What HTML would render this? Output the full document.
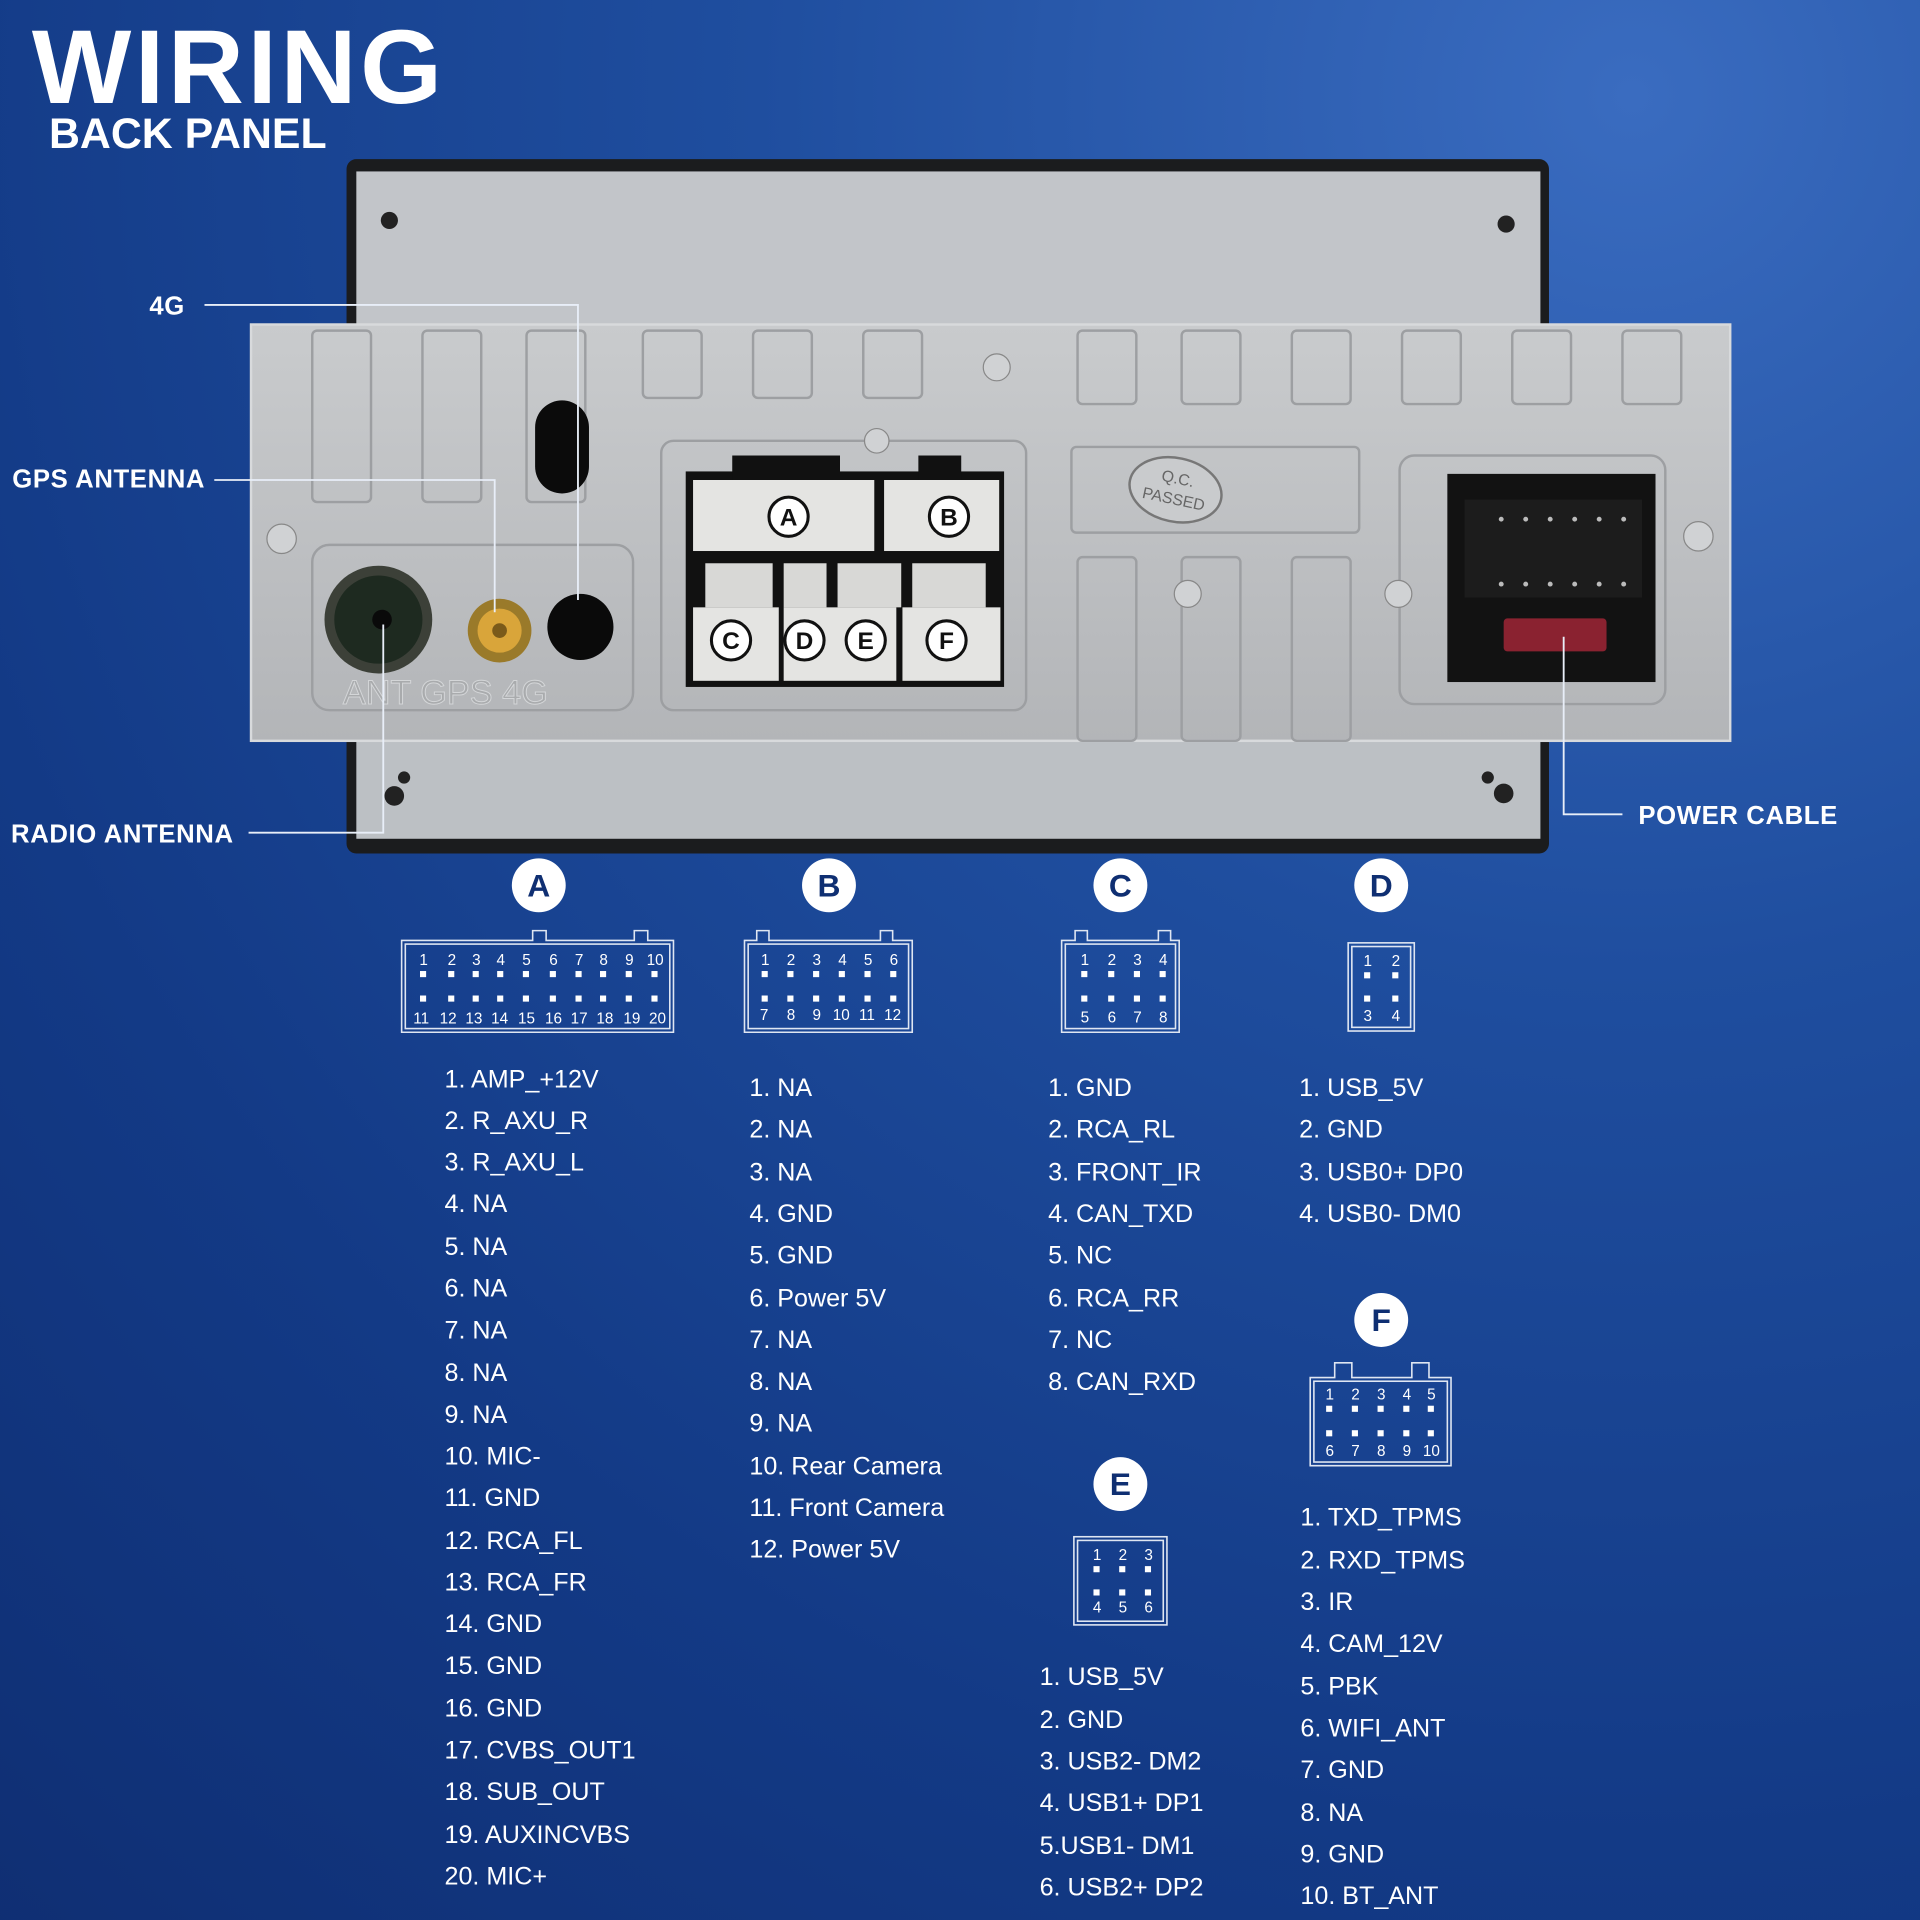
<!DOCTYPE html>
<html><head><meta charset="utf-8"><style>
html,body{margin:0;padding:0;width:1920px;height:1920px;overflow:hidden;background:#163f8f}
svg{display:block}
.t{font-family:"Liberation Sans",sans-serif;fill:#fff}
.l{font-size:20.5px}
.n{font-size:12.5px}
.lab{font-size:21px;font-weight:bold;letter-spacing:0.5px}
</style></head><body>
<svg width="1920" height="1920" viewBox="0 0 1568 1568" xmlns="http://www.w3.org/2000/svg">
<defs>
<radialGradient id="bg" cx="0.85" cy="0.05" r="1.3">
<stop offset="0" stop-color="#3a6cc0"/><stop offset="0.35" stop-color="#1f4e9f"/><stop offset="0.7" stop-color="#133a86"/><stop offset="1" stop-color="#0f2e72"/>
</radialGradient>
<linearGradient id="pl" x1="0" y1="0" x2="0" y2="1"><stop offset="0" stop-color="#c9cbcd"/><stop offset="1" stop-color="#b3b5b8"/></linearGradient>
</defs>
<rect width="1568" height="1568" fill="url(#bg)"/>
<text class="t" x="26" y="84" font-size="86" font-weight="bold" letter-spacing="3">WIRING</text>
<text class="t" x="40" y="121" font-size="35" font-weight="bold">BACK PANEL</text>

<rect x="283" y="130" width="982" height="567" rx="8" fill="#1b1c1e"/>
<rect x="291" y="140" width="967" height="130" fill="#c2c5c9"/>
<rect x="291" y="603" width="967" height="82" fill="#bcc0c4"/>
<circle cx="318" cy="180" r="7" fill="#222"/><circle cx="1230" cy="183" r="7" fill="#222"/>
<circle cx="322" cy="650" r="8" fill="#222"/><circle cx="1228" cy="648" r="8" fill="#222"/>
<circle cx="330" cy="635" r="5" fill="#222"/><circle cx="1215" cy="635" r="5" fill="#222"/>
<rect x="205" y="265" width="1208" height="340" fill="url(#pl)" stroke="#d8dadc" stroke-width="2"/>
<g fill="none" stroke="#9d9fa2" stroke-width="2">
<rect x="255" y="270" width="48" height="140" rx="4"/><rect x="345" y="270" width="48" height="140" rx="4"/><rect x="430" y="270" width="48" height="140" rx="4"/>
<rect x="525" y="270" width="48" height="55" rx="4"/><rect x="615" y="270" width="48" height="55" rx="4"/><rect x="705" y="270" width="48" height="55" rx="4"/>
<rect x="880" y="270" width="48" height="60" rx="4"/><rect x="965" y="270" width="48" height="60" rx="4"/><rect x="1055" y="270" width="48" height="60" rx="4"/>
<rect x="1145" y="270" width="48" height="60" rx="4"/><rect x="1235" y="270" width="48" height="60" rx="4"/><rect x="1325" y="270" width="48" height="60" rx="4"/>
<rect x="880" y="455" width="48" height="150" rx="4"/><rect x="965" y="455" width="48" height="150" rx="4"/><rect x="1055" y="455" width="48" height="150" rx="4"/>
<rect x="875" y="365" width="235" height="70" rx="4"/>
<rect x="255" y="445" width="262" height="135" rx="14"/>
<rect x="540" y="360" width="298" height="220" rx="10"/>
<rect x="1143" y="372" width="217" height="203" rx="12"/>
</g>
<rect x="437" y="327" width="44" height="76" rx="22" fill="#0b0b0b"/>
<circle cx="309" cy="506" r="44" fill="#3c4038"/><circle cx="309" cy="506" r="36" fill="#1e2a20"/><circle cx="312" cy="506" r="8" fill="#0a0a0a"/>
<circle cx="408" cy="515" r="26" fill="#9a7a2a"/><circle cx="408" cy="515" r="18" fill="#d9a53a"/><circle cx="408" cy="515" r="6" fill="#7a5a1a"/>
<circle cx="474" cy="512" r="27" fill="#0a0a0a"/>
<text x="280" y="575" font-family="Liberation Sans,sans-serif" font-size="28" fill="#a9abad" stroke="#d4d6d8" stroke-width="0.8">ANT GPS 4G</text>
<rect x="560" y="385" width="260" height="176" fill="#111"/>
<rect x="598" y="372" width="88" height="20" fill="#111"/><rect x="750" y="372" width="35" height="20" fill="#111"/>
<rect x="566" y="392" width="148" height="58" fill="#e4e4e2"/><rect x="722" y="392" width="94" height="58" fill="#e4e4e2"/>
<rect x="576" y="460" width="55" height="36" fill="#d8d8d6"/><rect x="640" y="460" width="35" height="36" fill="#d8d8d6"/><rect x="684" y="460" width="52" height="36" fill="#d8d8d6"/><rect x="745" y="460" width="60" height="36" fill="#d8d8d6"/>
<rect x="566" y="496" width="70" height="60" fill="#e4e4e2"/><rect x="640" y="496" width="92" height="60" fill="#e4e4e2"/><rect x="737" y="496" width="80" height="60" fill="#e4e4e2"/>
<g stroke="#111" stroke-width="2.5" fill="#fff">
<circle cx="644" cy="422" r="16"/><circle cx="775" cy="422" r="16"/><circle cx="597" cy="523" r="16"/><circle cx="657" cy="523" r="16"/><circle cx="707" cy="523" r="16"/><circle cx="773" cy="523" r="16"/>
</g>
<g font-family="Liberation Sans,sans-serif" font-weight="bold" font-size="20" fill="#111" text-anchor="middle">
<text x="644" y="429">A</text><text x="775" y="429">B</text><text x="597" y="530">C</text><text x="657" y="530">D</text><text x="707" y="530">E</text><text x="773" y="530">F</text>
</g>
<circle cx="716" cy="360" r="10" fill="#d0d2d4" stroke="#888"/>
<circle cx="814" cy="300" r="11" fill="#d0d2d4" stroke="#888"/>
<circle cx="230" cy="440" r="12" fill="#d0d2d4" stroke="#888"/>
<circle cx="970" cy="485" r="11" fill="#d0d2d4" stroke="#888"/>
<circle cx="1142" cy="485" r="11" fill="#d0d2d4" stroke="#888"/>
<circle cx="1387" cy="438" r="12" fill="#d0d2d4" stroke="#888"/>
<ellipse cx="960" cy="400" rx="38" ry="26" fill="#c9cbcd" stroke="#777" stroke-width="2" transform="rotate(12 960 400)"/>
<text x="960" y="395" font-family="Liberation Sans,sans-serif" font-size="13" fill="#666" text-anchor="middle" transform="rotate(12 960 400)">Q.C.</text>
<text x="960" y="412" font-family="Liberation Sans,sans-serif" font-size="13" fill="#666" text-anchor="middle" transform="rotate(12 960 400)">PASSED</text>
<rect x="1182" y="387" width="170" height="170" fill="#121212"/>
<rect x="1196" y="408" width="145" height="80" fill="#1c1c1c"/>
<g fill="#bbb"><circle cx="1226" cy="424" r="2"/><circle cx="1246" cy="424" r="2"/><circle cx="1266" cy="424" r="2"/><circle cx="1286" cy="424" r="2"/><circle cx="1306" cy="424" r="2"/><circle cx="1326" cy="424" r="2"/>
<circle cx="1226" cy="477" r="2"/><circle cx="1246" cy="477" r="2"/><circle cx="1266" cy="477" r="2"/><circle cx="1286" cy="477" r="2"/><circle cx="1306" cy="477" r="2"/><circle cx="1326" cy="477" r="2"/></g>
<rect x="1228" y="505" width="84" height="27" rx="3" fill="#8a2230"/>

<g stroke="#e8eef8" stroke-width="1.5" fill="none">
<polyline points="167,249 472,249 472,490"/>
<polyline points="175,392 404,392 404,500"/>
<polyline points="203,680 313,680 313,510"/>
<polyline points="1325,665 1277,665 1277,520"/>
</g>
<text class="t lab" x="122" y="257">4G</text>
<text class="t lab" x="10" y="398">GPS ANTENNA</text>
<text class="t lab" x="9" y="688">RADIO ANTENNA</text>
<text class="t lab" x="1338" y="673">POWER CABLE</text>

<g fill="#fff"><circle cx="440" cy="723" r="22"/><circle cx="677" cy="723" r="22"/><circle cx="915" cy="723" r="22"/><circle cx="1128" cy="723" r="22"/><circle cx="1128" cy="1078" r="22"/><circle cx="915" cy="1212" r="22"/></g>
<g font-family="Liberation Sans,sans-serif" font-weight="bold" font-size="26" fill="#0f2f72" text-anchor="middle">
<text x="440" y="732">A</text><text x="677" y="732">B</text><text x="915" y="732">C</text><text x="1128" y="732">D</text><text x="1128" y="1087">F</text><text x="915" y="1221">E</text>
</g>

<g stroke="#dfe6f2" stroke-width="1.3" fill="none">
<path d="M328 768 H435 V760 H446 V768 H518 V760 H529 V768 H550 V843 H328 Z"/><rect x="331" y="771" width="216" height="69"/>
<path d="M608 768 H618 V760 H628 V768 H719 V760 H729 V768 H745 V843 H608 Z"/><rect x="611" y="771" width="131" height="69"/>
<path d="M867 768 H878 V760 H888 V768 H946 V760 H956 V768 H963 V843 H867 Z"/><rect x="870" y="771" width="90" height="69"/>
<rect x="1101" y="770" width="54" height="72"/><rect x="1104" y="773" width="48" height="66"/>
<path d="M1070 1125 H1090 V1113 H1104 V1125 H1153 V1113 H1167 V1125 H1185 V1197 H1070 Z"/><rect x="1073" y="1128" width="109" height="66"/>
<rect x="877" y="1255" width="76" height="72"/><rect x="880" y="1258" width="70" height="66"/>
</g>
<g fill="#fff">
<rect x="343" y="793" width="5" height="5"/><rect x="366" y="793" width="5" height="5"/><rect x="386" y="793" width="5" height="5"/><rect x="406" y="793" width="5" height="5"/><rect x="427" y="793" width="5" height="5"/><rect x="449" y="793" width="5" height="5"/><rect x="470" y="793" width="5" height="5"/><rect x="490" y="793" width="5" height="5"/><rect x="511" y="793" width="5" height="5"/><rect x="532" y="793" width="5" height="5"/>
<rect x="343" y="813" width="5" height="5"/><rect x="366" y="813" width="5" height="5"/><rect x="386" y="813" width="5" height="5"/><rect x="406" y="813" width="5" height="5"/><rect x="427" y="813" width="5" height="5"/><rect x="449" y="813" width="5" height="5"/><rect x="470" y="813" width="5" height="5"/><rect x="490" y="813" width="5" height="5"/><rect x="511" y="813" width="5" height="5"/><rect x="532" y="813" width="5" height="5"/>
<rect x="622" y="793" width="5" height="5"/><rect x="643" y="793" width="5" height="5"/><rect x="664" y="793" width="5" height="5"/><rect x="685" y="793" width="5" height="5"/><rect x="706" y="793" width="5" height="5"/><rect x="727" y="793" width="5" height="5"/>
<rect x="622" y="813" width="5" height="5"/><rect x="643" y="813" width="5" height="5"/><rect x="664" y="813" width="5" height="5"/><rect x="685" y="813" width="5" height="5"/><rect x="706" y="813" width="5" height="5"/><rect x="727" y="813" width="5" height="5"/>
<rect x="883" y="793" width="5" height="5"/><rect x="905" y="793" width="5" height="5"/><rect x="926" y="793" width="5" height="5"/><rect x="947" y="793" width="5" height="5"/>
<rect x="883" y="813" width="5" height="5"/><rect x="905" y="813" width="5" height="5"/><rect x="926" y="813" width="5" height="5"/><rect x="947" y="813" width="5" height="5"/>
<rect x="1114" y="794" width="5" height="5"/><rect x="1137" y="794" width="5" height="5"/><rect x="1114" y="813" width="5" height="5"/><rect x="1137" y="813" width="5" height="5"/>
<rect x="1083" y="1148" width="5" height="5"/><rect x="1104" y="1148" width="5" height="5"/><rect x="1125" y="1148" width="5" height="5"/><rect x="1146" y="1148" width="5" height="5"/><rect x="1166" y="1148" width="5" height="5"/>
<rect x="1083" y="1168" width="5" height="5"/><rect x="1104" y="1168" width="5" height="5"/><rect x="1125" y="1168" width="5" height="5"/><rect x="1146" y="1168" width="5" height="5"/><rect x="1166" y="1168" width="5" height="5"/>
<rect x="893" y="1279" width="5" height="5"/><rect x="914" y="1279" width="5" height="5"/><rect x="935" y="1279" width="5" height="5"/>
<rect x="893" y="1298" width="5" height="5"/><rect x="914" y="1298" width="5" height="5"/><rect x="935" y="1298" width="5" height="5"/>
</g>
<g class="t n" text-anchor="middle">
<text x="346" y="788">1</text><text x="369" y="788">2</text><text x="389" y="788">3</text><text x="409" y="788">4</text><text x="430" y="788">5</text><text x="452" y="788">6</text><text x="473" y="788">7</text><text x="493" y="788">8</text><text x="514" y="788">9</text><text x="535" y="788">10</text>
<text x="344" y="836">11</text><text x="366" y="836">12</text><text x="387" y="836">13</text><text x="408" y="836">14</text><text x="430" y="836">15</text><text x="452" y="836">16</text><text x="473" y="836">17</text><text x="494" y="836">18</text><text x="516" y="836">19</text><text x="537" y="836">20</text>
<text x="625" y="788">1</text><text x="646" y="788">2</text><text x="667" y="788">3</text><text x="688" y="788">4</text><text x="709" y="788">5</text><text x="730" y="788">6</text>
<text x="624" y="833">7</text><text x="646" y="833">8</text><text x="667" y="833">9</text><text x="687" y="833">10</text><text x="708" y="833">11</text><text x="729" y="833">12</text>
<text x="886" y="788">1</text><text x="908" y="788">2</text><text x="929" y="788">3</text><text x="950" y="788">4</text>
<text x="886" y="835">5</text><text x="908" y="835">6</text><text x="929" y="835">7</text><text x="950" y="835">8</text>
<text x="1117" y="789">1</text><text x="1140" y="789">2</text><text x="1117" y="834">3</text><text x="1140" y="834">4</text>
<text x="1086" y="1143">1</text><text x="1107" y="1143">2</text><text x="1128" y="1143">3</text><text x="1149" y="1143">4</text><text x="1169" y="1143">5</text>
<text x="1086" y="1189">6</text><text x="1107" y="1189">7</text><text x="1128" y="1189">8</text><text x="1149" y="1189">9</text><text x="1169" y="1189">10</text>
<text x="896" y="1274">1</text><text x="917" y="1274">2</text><text x="938" y="1274">3</text>
<text x="896" y="1317">4</text><text x="917" y="1317">5</text><text x="938" y="1317">6</text>
</g>

<g class="t l">
<text x="363" y="888">1. AMP_+12V</text><text x="363" y="922">2. R_AXU_R</text><text x="363" y="956">3. R_AXU_L</text><text x="363" y="990">4. NA</text><text x="363" y="1025">5. NA</text><text x="363" y="1059">6. NA</text><text x="363" y="1093">7. NA</text><text x="363" y="1128">8. NA</text><text x="363" y="1162">9. NA</text><text x="363" y="1196">10. MIC-</text><text x="363" y="1230">11. GND</text><text x="363" y="1265">12. RCA_FL</text><text x="363" y="1299">13. RCA_FR</text><text x="363" y="1333">14. GND</text><text x="363" y="1367">15. GND</text><text x="363" y="1402">16. GND</text><text x="363" y="1436">17. CVBS_OUT1</text><text x="363" y="1470">18. SUB_OUT</text><text x="363" y="1505">19. AUXINCVBS</text><text x="363" y="1539">20. MIC+</text>

<text x="612" y="895">1. NA</text><text x="612" y="929">2. NA</text><text x="612" y="964">3. NA</text><text x="612" y="998">4. GND</text><text x="612" y="1032">5. GND</text><text x="612" y="1067">6. Power 5V</text><text x="612" y="1101">7. NA</text><text x="612" y="1135">8. NA</text><text x="612" y="1169">9. NA</text><text x="612" y="1204">10. Rear Camera</text><text x="612" y="1238">11. Front Camera</text><text x="612" y="1272">12. Power 5V</text>

<text x="856" y="895">1. GND</text><text x="856" y="929">2. RCA_RL</text><text x="856" y="964">3. FRONT_IR</text><text x="856" y="998">4. CAN_TXD</text><text x="856" y="1032">5. NC</text><text x="856" y="1067">6. RCA_RR</text><text x="856" y="1101">7. NC</text><text x="856" y="1135">8. CAN_RXD</text>

<text x="1061" y="895">1. USB_5V</text><text x="1061" y="929">2. GND</text><text x="1061" y="964">3. USB0+ DP0</text><text x="1061" y="998">4. USB0- DM0</text>

<text x="849" y="1376">1. USB_5V</text><text x="849" y="1411">2. GND</text><text x="849" y="1445">3. USB2- DM2</text><text x="849" y="1479">4. USB1+ DP1</text><text x="849" y="1514">5.USB1- DM1</text><text x="849" y="1548">6. USB2+ DP2</text>

<text x="1062" y="1246">1. TXD_TPMS</text><text x="1062" y="1281">2. RXD_TPMS</text><text x="1062" y="1315">3. IR</text><text x="1062" y="1349">4. CAM_12V</text><text x="1062" y="1384">5. PBK</text><text x="1062" y="1418">6. WIFI_ANT</text><text x="1062" y="1452">7. GND</text><text x="1062" y="1487">8. NA</text><text x="1062" y="1521">9. GND</text><text x="1062" y="1555">10. BT_ANT</text>
</g>
</svg>
</body></html>
